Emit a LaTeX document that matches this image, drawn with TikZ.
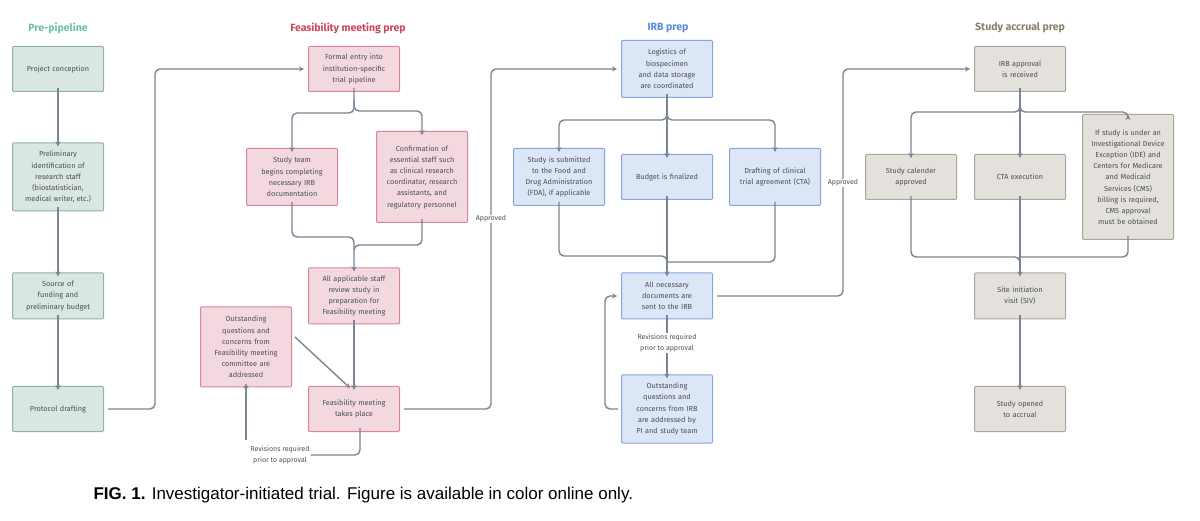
\documentclass[tikz,border=0pt]{standalone}
\usepackage{fontspec}
\setmainfont{Fira Sans}
\newfontfamily\capfont{Liberation Sans}
\usetikzlibrary{arrows.meta}
\definecolor{gF}{HTML}{D9E6E1}\definecolor{gD}{HTML}{8FB0A5}\definecolor{gT}{HTML}{6BBF9F}
\definecolor{pF}{HTML}{F3D9DF}\definecolor{pD}{HTML}{D98595}\definecolor{pT}{HTML}{C9465C}
\definecolor{bF}{HTML}{DCE6F6}\definecolor{bD}{HTML}{86A5DB}\definecolor{bT}{HTML}{5B87D6}
\definecolor{yF}{HTML}{E4E1DC}\definecolor{yD}{HTML}{ABA69C}\definecolor{yT}{HTML}{8A7E6A}
\definecolor{ln}{HTML}{7A8494}\definecolor{tx}{HTML}{4A4F58}
\begin{document}
\hyphenpenalty=10000 \exhyphenpenalty=10000
\begin{tikzpicture}[x=1pt,y=-1pt,
 box/.style={draw,line width=1pt,rounded corners=1pt,minimum width=91pt,text width=76pt,align=center,font=\fontsize{7.3}{11.2}\selectfont,text=tx,inner sep=2pt},
 G/.style={box,fill=gF,draw=gD},P/.style={box,fill=pF,draw=pD},
 B/.style={box,fill=bF,draw=bD},Y/.style={box,fill=yF,draw=yD},
 ttl/.style={font=\fontsize{10.5}{12}\selectfont\bfseries},
 lab/.style={font=\fontsize{7}{11}\selectfont,text=tx,align=center,fill=white,inner sep=1pt},
 c/.style={draw=ln,line width=1.4pt,rounded corners=5pt},
 a/.style={c,-{Stealth[length=5pt,width=5pt]}}]
\useasboundingbox (0,0) rectangle (1200,521);
% titles
\node[ttl,text=gT] (t1) at (58,28) {Pre-pipeline};
\node[ttl,text=pT] (t2) at (348,28) {Feasibility meeting prep};
\node[ttl,text=bT] (t3) at (668,28) {IRB prep};
\node[ttl,text=yT] (t4) at (1020,28) {Study accrual prep};
% pre-pipeline
\node[G,minimum height=45pt] (g1) at (58,69) {Project conception};
\node[G,minimum height=68pt,text width=72pt] (g2) at (58,177) {Preliminary\\identification of research staff (biostatistician, medical writer, etc.)};
\node[G,minimum height=46pt,text width=66pt] (g3) at (58,296) {Source of funding and preliminary budget};
\node[G,minimum height=45pt] (g4) at (58,409) {Protocol drafting};
% feasibility
\node[P,minimum height=45pt,text width=70pt] (p1) at (354,69) {Formal entry into institution-specific trial pipeline};
\node[P,minimum height=57pt,text width=66pt] (p2) at (292,177) {Study team begins completing necessary IRB documentation};
\node[P,minimum height=91pt] (p3) at (422,177) {Confirmation of essential staff such as clinical research coordinator, research assistants, and regulatory personnel};
\node[P,minimum height=56pt,text width=72pt] (p4) at (354,296) {All applicable staff review study in preparation for Feasibility meeting};
\node[P,minimum height=80pt,text width=72pt] (p5) at (246,347) {Outstanding\\questions and concerns from Feasibility meeting committee are addressed};
\node[P,minimum height=45pt,text width=72pt] (p6) at (354,409) {Feasibility meeting takes place};
\node[lab] (r1) at (280,455) {Revisions required\\prior to approval};
% IRB
\node[B,minimum height=57pt,text width=66pt] (b1) at (667,69) {Logistics of biospecimen and data storage are coordinated};
\node[B,minimum height=57pt,text width=80pt] (b2) at (559,177) {Study is submitted to the Food and Drug Administration (FDA), if applicable};
\node[B,minimum height=45pt] (b3) at (667,177) {Budget is finalized};
\node[B,minimum height=57pt,text width=80pt] (b4) at (775,177) {Drafting of clinical trial agreement (CTA)};
\node[B,minimum height=46pt,text width=76pt] (b5) at (667,296) {All necessary\\documents are sent to the IRB};
\node[B,minimum height=68pt,text width=76pt] (b6) at (667,409) {Outstanding\\questions and concerns from IRB are addressed by PI and study team};
% accrual
\node[Y,minimum height=45pt,text width=66pt] (y1) at (1020,69) {IRB approval is received};
\node[Y,minimum height=45pt,text width=66pt] (y2) at (911,177) {Study calender approved};
\node[Y,minimum height=45pt] (y3) at (1020,177) {CTA execution};
\node[Y,minimum height=125pt,text width=76pt] (y4) at (1128,177) {If study is under an Investigational Device Exception (IDE) and Centers for Medicare and Medicaid Services (CMS) billing is required, CMS approval must be obtained};
\node[Y,minimum height=46pt,text width=70pt] (y5) at (1020,296) {Site initiation visit (SIV)};
\node[Y,minimum height=45pt,text width=66pt] (y6) at (1020,409) {Study opened to accrual};
% connectors pre
\draw[a] ([yshift=4pt]g1.south) -- ([yshift=-4pt]g2.north);
\draw[a] ([yshift=4pt]g2.south) -- ([yshift=-4pt]g3.north);
\draw[a] ([yshift=4pt]g3.south) -- ([yshift=-4pt]g4.north);
\draw[a] ([xshift=4pt]g4.east) -- (155,409) -- (155,69) -- ([xshift=-4pt]p1.west);
% feasibility
\draw[a] ([yshift=4pt]p1.south) -- (354,113) -- (292,113) -- ([yshift=-4pt]p2.north);
\draw[a] (354,100) -- (354,111) -- (422,111) -- ([yshift=-4pt]p3.north);
\draw[c] ([yshift=4pt]p2.south) -- (292,237) -- (354,237) -- (354,250);
\draw[a] ([yshift=4pt]p3.south) -- (422,245) -- (354,245) -- ([yshift=-4pt]p4.north);
\draw[a] ([yshift=4pt]p4.south) -- ([yshift=-4pt]p6.north);
\draw[a] ([xshift=3pt]p5.east) ++(0,-10) -- ([xshift=-4pt,yshift=-2pt]p6.north);
\draw[c] ([xshift=6pt,yshift=4pt]p6.south) -- (360,455) -- (r1.east);
\coordinate (r1a) at (246,440);
\draw[a] (r1a) -- ([yshift=4pt]p5.south);
\draw[a] ([xshift=4pt]p6.east) -- (491,409) -- (491,69) -- ([xshift=-4pt]b1.west);
\node[lab] (ap1) at (491,219) {Approved};
% IRB
\draw[a] ([yshift=4pt]b1.south) -- ([yshift=-4pt]b3.north);
\draw[a] (667,112) -- (667,120) -- (559,120) -- ([yshift=-4pt]b2.north);
\draw[a] (667,112) -- (667,120) -- (775,120) -- ([yshift=-4pt]b4.north);
\draw[c] ([yshift=4pt]b2.south) -- (559,256) -- (667,256) -- (667,265);
\draw[c] ([yshift=4pt]b4.south) -- (775,262) -- (667,262);
\draw[a] ([yshift=4pt]b3.south) -- ([yshift=-4pt]b5.north);
\node[lab] (r2) at (667,343) {Revisions required\\prior to approval};
\draw[c] ([yshift=4pt]b5.south) -- (r2.north);
\draw[a] (r2.south) -- ([yshift=-4pt]b6.north);
\draw[a] ([xshift=-3pt]b6.west) -- (605,409) -- (605,296) -- ([xshift=-4pt]b5.west);
\draw[a] ([xshift=4pt]b5.east) -- (843,296) -- (843,69) -- ([xshift=-4pt]y1.west);
\node[lab] (ap2) at (843,183) {Approved};
% accrual
\draw[a] ([yshift=4pt]y1.south) -- ([yshift=-4pt]y3.north);
\draw[a] (1020,104) -- (1020,112) -- (911,112) -- ([yshift=-4pt]y2.north);
\draw[a] (1020,104) -- (1020,112) -- (1128,112) -- ([yshift=-1pt]y4.north);
\draw[c] ([yshift=4pt]y2.south) -- (911,257) -- (1020,257) -- (1020,265);
\draw[c] ([yshift=4pt]y4.south) -- (1128,257) -- (1020,257);
\draw[a] ([yshift=4pt]y3.south) -- ([yshift=-4pt]y5.north);
\draw[a] ([yshift=4pt]y5.south) -- ([yshift=-4pt]y6.north);
% caption
\node[anchor=west,font=\capfont\fontsize{17}{20}\selectfont] (cap) at (90,495) {\textbf{FIG. 1.} Investigator-initiated trial. Figure is available in color online only.};
\end{tikzpicture}
\end{document}
